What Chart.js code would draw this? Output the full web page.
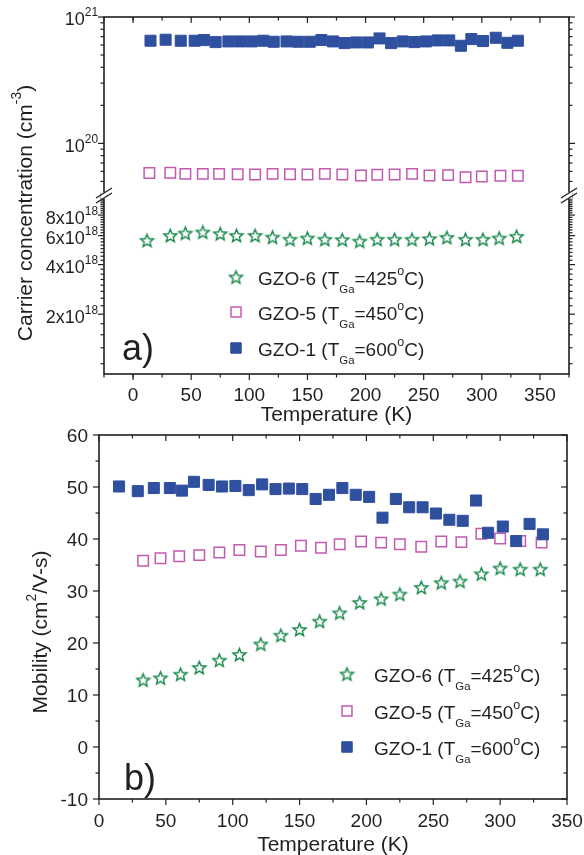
<!DOCTYPE html>
<html>
<head>
<meta charset="utf-8">
<script src="https://cdn.jsdelivr.net/npm/chart.js@4/dist/chart.umd.min.js"></script>
<style>
  body { margin: 0; background: #fff; }
  #wrap { position: relative; width: 584px; height: 855px; }
  canvas { position: absolute; left: 0; }
</style>
</head>
<body>
<div id="wrap">
  <canvas id="concChart" width="584" height="432" style="top:0"></canvas>
  <canvas id="mobChart" width="584" height="435" style="top:420px"></canvas>
</div>
<script>
// panel a) carrier concentration vs temperature
const concT1 = [15, 28, 41, 53, 61, 71, 82, 92, 102, 112, 121, 132, 142, 152, 162, 172,
  182, 192, 202, 212, 222, 232, 242, 252, 262, 272, 282, 291, 301, 312, 322, 331];
const concGZO1 = [6.49e20, 6.61e20, 6.49e20, 6.49e20, 6.57e20, 6.33e20, 6.41e20, 6.41e20,
  6.41e20, 6.49e20, 6.37e20, 6.41e20, 6.37e20, 6.37e20, 6.57e20, 6.41e20, 6.22e20, 6.29e20,
  6.29e20, 6.77e20, 6.22e20, 6.41e20, 6.33e20, 6.41e20, 6.53e20, 6.53e20, 5.92e20, 6.69e20,
  6.45e20, 6.85e20, 6.25e20, 6.49e20];
const concT5 = [14, 32, 45, 60, 74, 90, 105, 120, 135, 150, 165, 180, 196, 210, 225, 240,
  255, 271, 286, 300, 316, 331];
const concGZO5 = [5.82e19, 5.85e19, 5.74e19, 5.74e19, 5.74e19, 5.71e19, 5.68e19, 5.74e19,
  5.71e19, 5.68e19, 5.74e19, 5.68e19, 5.57e19, 5.64e19, 5.68e19, 5.74e19, 5.57e19, 5.61e19,
  5.40e19, 5.47e19, 5.54e19, 5.54e19];
const concT6 = [12, 32, 45, 60, 75, 89, 105, 120, 135, 150, 165, 180, 195, 210, 225, 240,
  255, 270, 286, 301, 315, 330];
const concGZO6 = [5.62e18, 6.02e18, 6.22e18, 6.31e18, 6.17e18, 6.02e18, 6.02e18, 5.88e18,
  5.70e18, 5.80e18, 5.70e18, 5.67e18, 5.56e18, 5.70e18, 5.70e18, 5.70e18, 5.75e18, 5.86e18,
  5.70e18, 5.70e18, 5.80e18, 5.94e18];

// panel b) mobility vs temperature
const mobT1 = [15, 29, 41, 53, 62, 71, 82, 92, 102, 112, 122, 132, 142, 152, 162, 172,
  182, 192, 202, 212, 222, 232, 242, 252, 262, 272, 282, 291, 302, 312, 322, 332];
const mobGZO1 = [50.1, 49.2, 49.8, 49.8, 49.3, 51.0, 50.4, 50.1, 50.2, 49.4, 50.5, 49.6,
  49.7, 49.6, 47.7, 48.5, 49.8, 48.5, 48.1, 44.1, 47.7, 46.1, 46.1, 44.9, 43.7, 43.5,
  47.4, 41.2, 42.4, 39.6, 42.9, 40.9];
const mobT5 = [33, 46, 60, 75, 90, 105, 121, 136, 151, 166, 180, 196, 211, 225, 241, 256,
  271, 286, 300, 315, 331];
const mobGZO5 = [35.8, 36.3, 36.7, 36.9, 37.4, 37.9, 37.6, 37.9, 38.7, 38.3, 39.0, 39.5,
  39.3, 39.0, 38.5, 39.5, 39.4, 41.0, 40.1, 39.6, 39.3];
const mobT6 = [33, 46, 61, 75, 90, 105, 121, 136, 150, 165, 180, 195, 211, 225, 241, 256,
  270, 286, 300, 315, 330];
const mobGZO6 = [12.9, 13.3, 14.0, 15.3, 16.7, 17.8, 19.8, 21.5, 22.6, 24.2, 25.8, 27.8,
  28.5, 29.4, 30.7, 31.6, 31.9, 33.3, 34.4, 34.2, 34.2];

// tick values and labels
const tempTicks = [0, 50, 100, 150, 200, 250, 300, 350];
const mobTicks = [-10, 0, 10, 20, 30, 40, 50, 60];
const concUpTicks = [1e20, 1e21];
const concUpLabels = [[["10", ""], ["20", "sup"]], [["10", ""], ["21", "sup"]]];
const concLoTicks = [2e18, 4e18, 6e18, 8e18];
const concLoLabels = [[["2x10", ""], ["18", "sup"]], [["4x10", ""], ["18", "sup"]],
  [["6x10", ""], ["18", "sup"]], [["8x10", ""], ["18", "sup"]]];

const legendGZO6 = [["GZO-6 (T", ""], ["Ga", "sub"], ["=425", ""], ["o", "sup"], ["C)", ""]];
const legendGZO5 = [["GZO-5 (T", ""], ["Ga", "sub"], ["=450", ""], ["o", "sup"], ["C)", ""]];
const legendGZO1 = [["GZO-1 (T", ""], ["Ga", "sub"], ["=600", ""], ["o", "sup"], ["C)", ""]];

const INK = "#231f20";
const FONT = '"Liberation Sans", Arial, Helvetica, sans-serif';
const BLUE = "#2f4f9f";
const PINK = "#c45aae";
const GREEN = "#17884a";

function makeStar(color) {
  const c = document.createElement("canvas");
  c.width = 17; c.height = 17;
  const g = c.getContext("2d");
  g.beginPath();
  for (let i = 0; i < 10; i++) {
    const r = i % 2 ? 3.0 : 6.8;
    const ang = -Math.PI / 2 + i * Math.PI / 5;
    g.lineTo(8.5 + r * Math.cos(ang), 9.2 + r * Math.sin(ang));
  }
  g.closePath();
  g.fillStyle = "#fff";
  g.fill();
  g.lineWidth = 1.4;
  g.strokeStyle = color;
  g.stroke();
  return c;
}
const starImg = makeStar(GREEN);

function pts(xs, ys) {
  return xs.map((x, i) => ({ x, y: ys[i] }));
}

function steps(from, to, step) {
  const out = [];
  for (let v = from; v <= to + Math.abs(step) * 1e-6; v += step) out.push(+v.toPrecision(8));
  return out;
}

function tickList(major, minor) {
  const m = major.map(v => ({ value: v, major: true }));
  const n = minor.filter(v => !major.some(M => Math.abs(M - v) < Math.abs(M) * 1e-6))
    .map(v => ({ value: v, major: false }));
  return m.concat(n);
}

function fontFor(kind, size) {
  const s = kind === "sup" ? size * 0.66 : kind === "sub" ? size * 0.6 : size;
  return s.toFixed(1) + "px " + FONT;
}

// draw text with super/subscripts, y = middle of capitals
function drawRich(ctx, parts, x, y, size, align) {
  let w = 0;
  for (const [t, k] of parts) { ctx.font = fontFor(k, size); w += ctx.measureText(t).width; }
  let cx = align === "right" ? x - w : align === "center" ? x - w / 2 : x;
  const base = y + size * 0.358;
  ctx.textAlign = "left";
  ctx.textBaseline = "alphabetic";
  for (const [t, k] of parts) {
    ctx.font = fontFor(k, size);
    const dy = k === "sup" ? -size * 0.5 : k === "sub" ? size * 0.42 : 0;
    ctx.fillText(t, cx, base + dy);
    cx += ctx.measureText(t).width;
  }
}

const panelPlugin = {
  id: "panel",
  afterDraw(chart, args, o) {
    const ctx = chart.ctx;
    const a = chart.chartArea;
    const seg = (x1, y1, x2, y2) => { ctx.beginPath(); ctx.moveTo(x1, y1); ctx.lineTo(x2, y2); ctx.stroke(); };
    ctx.save();
    ctx.strokeStyle = INK;
    ctx.fillStyle = INK;
    ctx.lineWidth = 1.6;
    ctx.strokeRect(a.left, a.top, a.right - a.left, a.bottom - a.top);

    ctx.lineWidth = 1.2;
    const xs = chart.scales.x;
    for (const t of xs.ticks) {
      const px = xs.getPixelForValue(t.value);
      const len = t.major ? 6 : 3.5;
      seg(px, a.bottom, px, a.bottom + len);
      seg(px, a.top, px, a.top + len);
      if (t.major) drawRich(ctx, [[String(t.value), ""]], px, o.xLabelY, o.tickSize, "center");
    }
    for (const id of o.yIds) {
      const ys = chart.scales[id];
      for (const t of ys.ticks) {
        const py = ys.getPixelForValue(t.value);
        const len = t.major ? 6 : 3.5;
        seg(a.left - len, py, a.left, py);
        seg(a.right, py, a.right + o.rightDir * len, py);
        if (t.major) drawRich(ctx, o.yLabel(t.value), o.yLabelX, py + o.yLabelDy, o.yTickSize, "right");
      }
    }

    if (o.breakAt) {
      const by = chart.scales[o.breakAt].bottom;
      for (const bx of [a.left, a.right]) {
        ctx.fillStyle = "#fff";
        ctx.fillRect(bx - 3, by - 3, 6, 6);
        ctx.lineWidth = 1.3;
        seg(bx - 8, by + 2.5, bx + 8, by - 7.5);
        seg(bx - 8, by + 7.5, bx + 8, by - 2.5);
      }
      ctx.fillStyle = INK;
    }

    drawRich(ctx, o.xTitle, (a.left + a.right) / 2, o.xTitleY, o.titleSize, "center");
    ctx.save();
    ctx.translate(o.yTitleX, o.yTitleY);
    ctx.rotate(-Math.PI / 2);
    drawRich(ctx, o.yTitle, 0, 0, o.titleSize, "center");
    ctx.restore();

    o.legend.rows.forEach((row, i) => {
      const ds = chart.data.datasets[row.dataset];
      const y = o.legend.y[i];
      ctx.fillStyle = ds.backgroundColor;
      ctx.strokeStyle = ds.borderColor;
      ctx.lineWidth = ds.borderWidth;
      Chart.helpers.drawPoint(ctx, {
        pointStyle: ds.pointStyle, radius: ds.pointRadius * 0.95,
        borderWidth: ds.borderWidth, rotation: 0
      }, o.legend.markX, y);
      ctx.fillStyle = INK;
      drawRich(ctx, row.text, o.legend.textX, y + 1, o.legendSize, "left");
    });

    drawRich(ctx, [[o.letter.text, ""]], o.letter.x, o.letter.y, 36, "left");
    ctx.restore();
  }
};

function sqSet(label, data, color, filled, yAxisID) {
  return {
    label, data, yAxisID,
    pointStyle: "rect",
    pointRadius: filled ? 7.8 : 7.4,
    borderWidth: filled ? 1 : 1.5,
    backgroundColor: filled ? color : "#fff",
    borderColor: color,
    showLine: false
  };
}
function starSet(label, data, yAxisID) {
  return {
    label, data, yAxisID,
    pointStyle: starImg, pointRadius: 7,
    borderWidth: 0, backgroundColor: "#fff", borderColor: GREEN,
    showLine: false
  };
}

const hidden = { ticks: { display: false }, grid: { display: false }, border: { display: false } };

new Chart(document.getElementById("concChart"), {
  type: "scatter",
  data: {
    datasets: [
      sqSet("GZO-1", pts(concT1, concGZO1), BLUE, true, "yUp"),
      sqSet("GZO-5", pts(concT5, concGZO5), PINK, false, "yUp"),
      starSet("GZO-6", pts(concT6, concGZO6), "yLo")
    ]
  },
  options: {
    responsive: false,
    animation: false,
    events: [],
    layout: { padding: { left: 0, right: 15, top: 17, bottom: 0 } },
    scales: {
      x: {
        type: "linear", min: -25, max: 375, ...hidden,
        afterBuildTicks: s => { s.ticks = tickList(tempTicks, steps(-25, 375, 25)); },
        afterFit: s => { s.height = 58; }
      },
      // stacked axes: the one defined last is placed on top
      yLo: {
        type: "logarithmic", position: "left", stack: "conc", stackWeight: 1,
        min: 8.66e17, max: 1.052e19, ...hidden,
        afterBuildTicks: s => { s.ticks = tickList(concLoTicks, steps(1e18, 1.05e19, 0.25e18)); },
        afterFit: s => { s.width = 104; }
      },
      yUp: {
        type: "logarithmic", position: "left", stack: "conc", stackWeight: 1,
        min: 3.87e19, max: 1e21, ...hidden,
        afterBuildTicks: s => {
          s.ticks = tickList(concUpTicks, [4e19, 5e19, 6e19, 7e19, 8e19, 9e19,
            2e20, 3e20, 4e20, 5e20, 6e20, 7e20, 8e20, 9e20]);
        },
        afterFit: s => { s.width = 104; }
      }
    },
    plugins: {
      legend: { display: false },
      tooltip: { enabled: false },
      panel: {
        yIds: ["yUp", "yLo"],
        rightDir: 1,
        tickSize: 19,
        yTickSize: 18,
        titleSize: 21,
        legendSize: 19,
        xLabelY: 394,
        yLabelX: 98,
        yLabelDy: 2,
        yLabel: v => {
          let i = concUpTicks.indexOf(v);
          if (i >= 0) return concUpLabels[i];
          i = concLoTicks.indexOf(v);
          return concLoLabels[i];
        },
        breakAt: "yUp",
        xTitle: [["Temperature (K)", ""]],
        xTitleY: 413,
        yTitle: [["Carrier concentration (cm", ""], ["-3", "sup"], [")", ""]],
        yTitleX: 24,
        yTitleY: 213,
        legend: {
          markX: 236, textX: 258, y: [277, 312, 348],
          rows: [{ dataset: 2, text: legendGZO6 }, { dataset: 1, text: legendGZO5 }, { dataset: 0, text: legendGZO1 }]
        },
        letter: { text: "a)", x: 122, y: 347 }
      }
    }
  },
  plugins: [panelPlugin]
});

new Chart(document.getElementById("mobChart"), {
  type: "scatter",
  data: {
    datasets: [
      sqSet("GZO-1", pts(mobT1, mobGZO1), BLUE, true, "y"),
      sqSet("GZO-5", pts(mobT5, mobGZO5), PINK, false, "y"),
      starSet("GZO-6", pts(mobT6, mobGZO6), "y")
    ]
  },
  options: {
    responsive: false,
    animation: false,
    events: [],
    layout: { padding: { left: 0, right: 17, top: 15, bottom: 0 } },
    scales: {
      x: {
        type: "linear", min: 0, max: 350, ...hidden,
        afterBuildTicks: s => { s.ticks = tickList(tempTicks, steps(25, 325, 50)); },
        afterFit: s => { s.height = 56; }
      },
      y: {
        type: "linear", position: "left", min: -10, max: 60, ...hidden,
        afterBuildTicks: s => { s.ticks = tickList(mobTicks, steps(-5, 55, 10)); },
        afterFit: s => { s.width = 99; }
      }
    },
    plugins: {
      legend: { display: false },
      tooltip: { enabled: false },
      panel: {
        yIds: ["y"],
        rightDir: -1,
        tickSize: 19,
        yTickSize: 19,
        titleSize: 21,
        legendSize: 19,
        xLabelY: 400,
        yLabelX: 88,
        yLabelDy: 0,
        yLabel: v => [[String(v), ""]],
        breakAt: null,
        xTitle: [["Temperature (K)", ""]],
        xTitleY: 423,
        yTitle: [["Mobility (cm", ""], ["2", "sup"], ["/V-s)", ""]],
        yTitleX: 39,
        yTitleY: 212,
        legend: {
          markX: 347, textX: 374, y: [254, 291, 327],
          rows: [{ dataset: 2, text: legendGZO6 }, { dataset: 1, text: legendGZO5 }, { dataset: 0, text: legendGZO1 }]
        },
        letter: { text: "b)", x: 124, y: 357 }
      }
    }
  },
  plugins: [panelPlugin]
});
</script>
</body>
</html>
